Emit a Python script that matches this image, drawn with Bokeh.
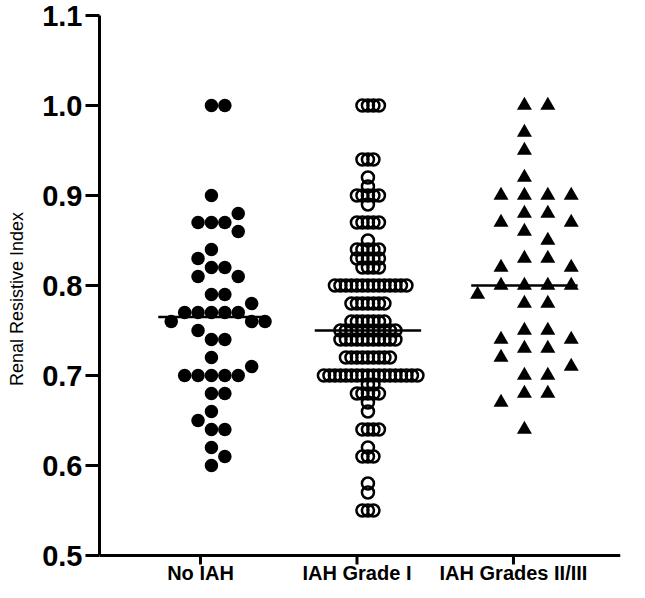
import numpy as np
from bokeh.plotting import figure
from bokeh.models import Range1d, FixedTicker, PrintfTickFormatter
from bokeh.core.properties import value
from bokeh.embed import file_html
from bokeh.resources import INLINE

# ---------------- data ----------------
categories = ["No IAH", "IAH Grade I", "IAH Grades II/III"]
cat_pos = [1, 2, 3]
y_ticks = [0.5, 0.6, 0.7, 0.8, 0.9, 1.0, 1.1]

no_iah = [1.00, 1.00, 0.90, 0.88, 0.87, 0.87, 0.87, 0.86, 0.84, 0.83, 0.82, 0.82,
          0.81, 0.81, 0.79, 0.79, 0.78, 0.77, 0.77, 0.77, 0.77, 0.77, 0.76, 0.76,
          0.76, 0.75, 0.74, 0.74, 0.72, 0.71, 0.70, 0.70, 0.70, 0.70, 0.70, 0.68,
          0.68, 0.66, 0.65, 0.64, 0.64, 0.62, 0.61, 0.60]

grade1_levels = [1.00, 0.94, 0.92, 0.91, 0.90, 0.89, 0.87, 0.85, 0.84, 0.83, 0.82,
                 0.80, 0.78, 0.76, 0.75, 0.74, 0.72, 0.70, 0.69, 0.68, 0.67, 0.66,
                 0.64, 0.62, 0.61, 0.58, 0.57, 0.55]
grade1_counts = [4, 3, 1, 1, 5, 1, 5, 1, 5, 5, 4,
                 14, 7, 7, 11, 11, 9, 18, 2, 5, 1, 1,
                 4, 1, 3, 1, 1, 3]
grade1 = [v for v, c in zip(grade1_levels, grade1_counts) for _ in range(c)]

grade23 = [1.00, 1.00, 0.97, 0.95, 0.92, 0.90, 0.90, 0.90, 0.90, 0.88, 0.88,
           0.87, 0.87, 0.86, 0.85, 0.83, 0.83, 0.82, 0.82, 0.80, 0.80, 0.80,
           0.80, 0.79, 0.78, 0.78, 0.75, 0.75, 0.74, 0.74, 0.73, 0.73, 0.72,
           0.71, 0.70, 0.70, 0.68, 0.68, 0.67, 0.64]

# ---------------- layout helpers ----------------
W, H = 629, 582
BL, BR, BT = 99, 9, 15
AXIS_Y_PX = 555                       # pixel row of the x axis inside the figure
PPU_Y = (AXIS_Y_PX - BT) / (y_ticks[-1] - y_ticks[0])
Y_BOTTOM = y_ticks[0] - (H - AXIS_Y_PX) / PPU_Y
X0 = 0.3546
X1 = 3.684
PPU_X = (W - BL - BR) / (X1 - X0)
SHIFT = 0.07
FONT = "Liberation Sans"


def swarm(vals, w, h):
    """simple beeswarm: returns x offsets (px) for each value"""
    vals = np.asarray(vals, dtype=float)
    uniq, counts = np.unique(vals, return_counts=True)
    order = sorted(range(len(uniq)), key=lambda i: (-counts[i], -uniq[i]))
    placed = []
    xs, ys = [], []
    for i in order:
        v = uniq[i]
        ypx = v * PPU_Y
        for _ in range(counts[i]):
            k = 0
            found = None
            while found is None:
                cands = [0.0] if k == 0 else [k * w / 2, -k * w / 2]
                for c in cands:
                    if all(not (abs(c - px) < w - 1e-6 and abs(ypx - py) < h - 1e-6)
                           for px, py in placed):
                        found = c
                        break
                k += 1
            placed.append((found, ypx))
            xs.append(found)
            ys.append(v)
    return np.array(xs), np.array(ys)


p = figure(width=W, height=H, output_backend="svg", toolbar_location=None,
           x_range=Range1d(X0, X1), y_range=Range1d(Y_BOTTOM, y_ticks[-1]),
           min_border_left=BL, min_border_right=BR, min_border_top=BT,
           min_border_bottom=0)
p.outline_line_color = None
p.xgrid.visible = False
p.ygrid.visible = False
p.xaxis.visible = False
p.background_fill_color = "white"
p.border_fill_color = "white"

# y axis (bounded to 0.5 - 1.1)
p.yaxis.bounds = (y_ticks[0], y_ticks[-1])
p.yaxis.ticker = FixedTicker(ticks=y_ticks)
p.yaxis.formatter = PrintfTickFormatter(format="%.1f")
p.yaxis.axis_label = "Renal Resistive Index"
p.yaxis.axis_label_text_font = FONT
p.yaxis.axis_label_text_font_style = "normal"
p.yaxis.axis_label_text_font_size = "18px"
p.yaxis.axis_label_text_color = "black"
p.yaxis.axis_label_standoff = 12
p.yaxis.major_label_text_font = FONT
p.yaxis.major_label_text_font_style = "bold"
p.yaxis.major_label_text_font_size = "29px"
p.yaxis.major_label_text_color = "black"
p.yaxis.major_label_standoff = 3
p.yaxis.axis_line_width = 3
p.yaxis.axis_line_color = "black"
p.yaxis.major_tick_line_width = 3
p.yaxis.major_tick_line_color = "black"
p.yaxis.major_tick_out = 14
p.yaxis.major_tick_in = 0
p.yaxis.minor_tick_line_color = None

# x axis: line, ticks and category names drawn on the shared scales
TICK_LEN = 9 / PPU_Y
p.segment(x0=[X0], y0=[y_ticks[0]], x1=[X1], y1=[y_ticks[0]],
          line_color="black", line_width=3)
p.segment(x0=cat_pos, y0=[y_ticks[0]] * len(cat_pos), x1=cat_pos,
          y1=[y_ticks[0] - TICK_LEN] * len(cat_pos), line_color="black", line_width=3)
p.text(x=cat_pos, y=[y_ticks[0] - 17 / PPU_Y] * len(cat_pos), text=categories,
       text_align="center", text_baseline="middle",
       text_font=value(FONT), text_font_style="bold",
       text_font_size=value("20px"), text_color="black")

# group 1: filled circles
ox, yy = swarm(no_iah, 13.4, 13)
p.scatter(cat_pos[0] + SHIFT + ox / PPU_X, yy, marker="circle", size=13.5,
          fill_color="black", line_color="black", line_width=0)

# group 2: open circles (overlapping)
ox, yy = swarm(grade1, 5.5, 8)
p.scatter(cat_pos[1] + SHIFT + ox / PPU_X, yy, marker="circle", size=12,
          fill_alpha=0, line_color="black", line_width=2.5)

# group 3: filled triangles
ox, yy = swarm(grade23, 23.4, 13)
p.scatter(cat_pos[2] + SHIFT + ox / PPU_X, yy, marker="triangle", size=15,
          fill_color="black", line_color="black", line_width=0)

# median lines
HALF = 0.34
meds = [float(np.median(g)) for g in (no_iah, grade1, grade23)]
xc = [c + SHIFT for c in cat_pos]
p.segment(x0=[c - HALF for c in xc], y0=meds, x1=[c + HALF for c in xc], y1=meds,
          line_color="black", line_width=2.5)

open("out.html", "w").write(file_html(p, INLINE))
